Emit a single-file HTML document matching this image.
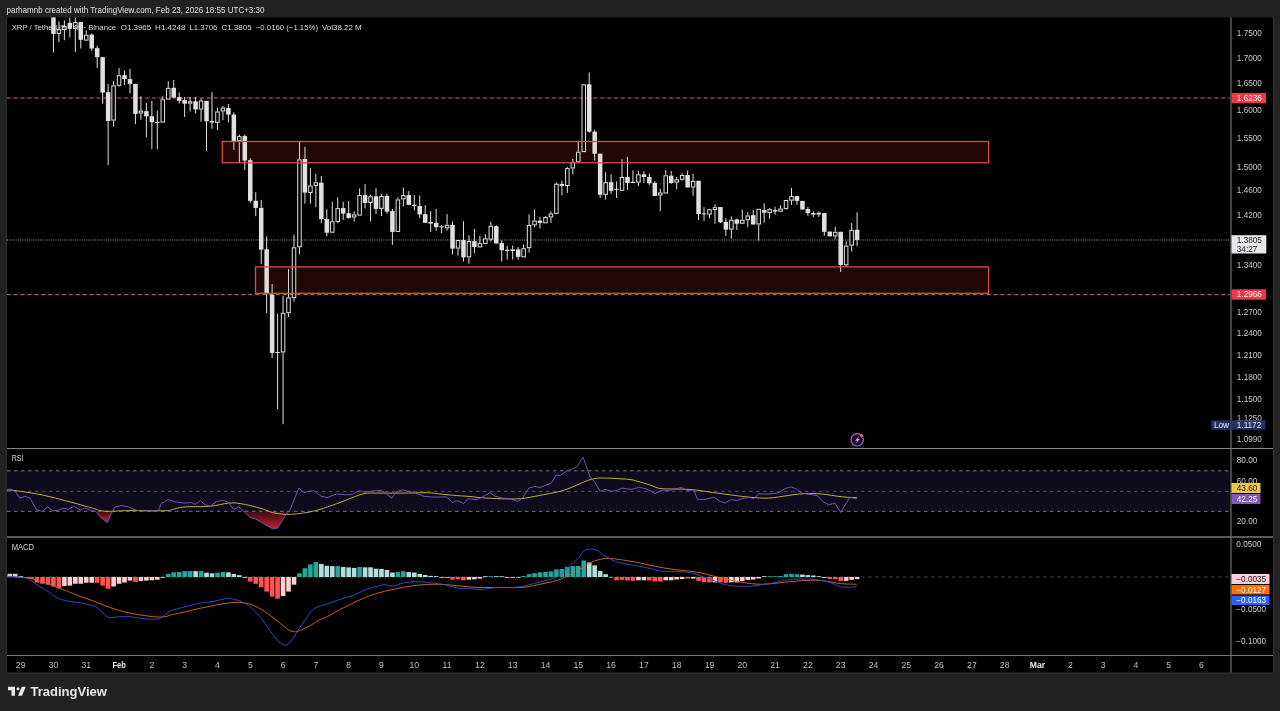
<!DOCTYPE html>
<html><head><meta charset="utf-8"><title>XRP / TetherUS chart</title>
<style>html,body{margin:0;padding:0;background:#212121;width:1280px;height:711px;overflow:hidden}svg{display:block}</style>
</head><body><svg width="1280" height="711" viewBox="0 0 1280 711" font-family="'Liberation Sans', Arial, sans-serif"><defs><linearGradient id="rg" x1="0" y1="0" x2="0" y2="1"><stop offset="0" stop-color="#3a0a12"/><stop offset="1" stop-color="#c0202a"/></linearGradient></defs><rect x="0" y="0" width="1280" height="711" fill="#212121"/>
<rect x="7" y="17.5" width="1266" height="655.0" fill="#000"/>
<rect x="1273" y="17.5" width="1.6" height="655.0" fill="#2b2b2b"/>
<rect x="5.2" y="17.5" width="1.8" height="655.0" fill="#282828"/>
<rect x="7" y="672.5" width="1266" height="1.6" fill="#2b2b2b"/>
<text x="6.5" y="12.6" font-size="8.7" textLength="258" lengthAdjust="spacingAndGlyphs" fill="#e0e0e0">parhamnb created with TradingView.com, Feb 23, 2026 18:55 UTC+3:30</text>
<clipPath id="mp"><rect x="7" y="17.5" width="1224" height="430.5"/></clipPath>
<clipPath id="rp"><rect x="7" y="448" width="1224" height="88.5"/></clipPath>
<clipPath id="mcp"><rect x="7" y="536.5" width="1224" height="119.0"/></clipPath>
<g clip-path="url(#mp)">
<line x1="7" y1="98.0" x2="1231" y2="98.0" stroke="#3a0a0c" stroke-width="1.6"/>
<line x1="7" y1="98.0" x2="1231" y2="98.0" stroke="#8e6a6a" stroke-width="1" stroke-dasharray="3.6 3.3"/>
<line x1="7" y1="294.6" x2="1231" y2="294.6" stroke="#3a0a0c" stroke-width="1.6"/>
<line x1="7" y1="294.6" x2="1231" y2="294.6" stroke="#9a7878" stroke-width="1" stroke-dasharray="3.6 3.3"/>
<line x1="7" y1="240" x2="1231" y2="240" stroke="#a8a8a8" stroke-width="0.9" stroke-dasharray="1 1.2"/>
<rect x="222.3" y="141.5" width="766.3" height="21.30000000000001" fill="#1c0606"/>
<rect x="255.5" y="266.9" width="733.1" height="26.400000000000034" fill="#1c0606"/>
<line x1="53.45" y1="5" x2="53.45" y2="52.4" stroke="#e0e0e0" stroke-width="1"/>
<rect x="51.2" y="10" width="4.5" height="23.9" fill="#e0e0e0"/>
<line x1="58.92" y1="21.3" x2="58.92" y2="29.2" stroke="#e0e0e0" stroke-width="1"/>
<line x1="58.92" y1="33.9" x2="58.92" y2="42.2" stroke="#e0e0e0" stroke-width="1"/>
<rect x="57.17" y="29.7" width="3.5" height="3.7" fill="#000" stroke="#e0e0e0" stroke-width="1"/>
<line x1="64.38" y1="20.5" x2="64.38" y2="26" stroke="#e0e0e0" stroke-width="1"/>
<line x1="64.38" y1="30" x2="64.38" y2="40.2" stroke="#e0e0e0" stroke-width="1"/>
<rect x="62.63" y="26.5" width="3.5" height="3" fill="#000" stroke="#e0e0e0" stroke-width="1"/>
<line x1="69.85" y1="17.4" x2="69.85" y2="37.4" stroke="#e0e0e0" stroke-width="1"/>
<rect x="67.6" y="22.9" width="4.5" height="5.9" fill="#e0e0e0"/>
<line x1="75.32" y1="17.4" x2="75.32" y2="22.1" stroke="#e0e0e0" stroke-width="1"/>
<line x1="75.32" y1="28.8" x2="75.32" y2="52" stroke="#e0e0e0" stroke-width="1"/>
<rect x="73.57" y="22.6" width="3.5" height="5.7" fill="#000" stroke="#e0e0e0" stroke-width="1"/>
<line x1="80.78" y1="22" x2="80.78" y2="48.5" stroke="#e0e0e0" stroke-width="1"/>
<rect x="78.53" y="22.1" width="4.5" height="17.7" fill="#e0e0e0"/>
<line x1="86.25" y1="30.4" x2="86.25" y2="34.7" stroke="#e0e0e0" stroke-width="1"/>
<line x1="86.25" y1="40.6" x2="86.25" y2="41" stroke="#e0e0e0" stroke-width="1"/>
<rect x="84.5" y="35.2" width="3.5" height="4.9" fill="#000" stroke="#e0e0e0" stroke-width="1"/>
<line x1="91.72" y1="33.5" x2="91.72" y2="50.8" stroke="#e0e0e0" stroke-width="1"/>
<rect x="89.47" y="34.7" width="4.5" height="13.8" fill="#e0e0e0"/>
<line x1="97.19" y1="45.7" x2="97.19" y2="68.1" stroke="#e0e0e0" stroke-width="1"/>
<rect x="94.94" y="48.1" width="4.5" height="9" fill="#e0e0e0"/>
<line x1="102.65" y1="57" x2="102.65" y2="103.8" stroke="#e0e0e0" stroke-width="1"/>
<rect x="100.4" y="57.1" width="4.5" height="35.4" fill="#e0e0e0"/>
<line x1="108.12" y1="83.9" x2="108.12" y2="165.1" stroke="#e0e0e0" stroke-width="1"/>
<rect x="105.87" y="92.1" width="4.5" height="28.9" fill="#e0e0e0"/>
<line x1="113.59" y1="81.1" x2="113.59" y2="85.4" stroke="#e0e0e0" stroke-width="1"/>
<line x1="113.59" y1="120.6" x2="113.59" y2="126.5" stroke="#e0e0e0" stroke-width="1"/>
<rect x="111.84" y="85.9" width="3.5" height="34.2" fill="#000" stroke="#e0e0e0" stroke-width="1"/>
<line x1="119.05" y1="68.1" x2="119.05" y2="75.2" stroke="#e0e0e0" stroke-width="1"/>
<line x1="119.05" y1="85.8" x2="119.05" y2="86.6" stroke="#e0e0e0" stroke-width="1"/>
<rect x="117.3" y="75.7" width="3.5" height="9.6" fill="#000" stroke="#e0e0e0" stroke-width="1"/>
<line x1="124.52" y1="70.5" x2="124.52" y2="85" stroke="#e0e0e0" stroke-width="1"/>
<rect x="122.27" y="75.2" width="4.5" height="3.9" fill="#e0e0e0"/>
<line x1="129.99" y1="68.9" x2="129.99" y2="93.3" stroke="#e0e0e0" stroke-width="1"/>
<rect x="127.74" y="79.1" width="4.5" height="4.8" fill="#e0e0e0"/>
<line x1="135.45" y1="83.9" x2="135.45" y2="124.1" stroke="#e0e0e0" stroke-width="1"/>
<rect x="133.2" y="83.9" width="4.5" height="30" fill="#e0e0e0"/>
<line x1="140.92" y1="96.2" x2="140.92" y2="110.7" stroke="#e0e0e0" stroke-width="1"/>
<line x1="140.92" y1="113.5" x2="140.92" y2="119.8" stroke="#e0e0e0" stroke-width="1"/>
<rect x="139.17" y="111.2" width="3.5" height="1.8" fill="#000" stroke="#e0e0e0" stroke-width="1"/>
<line x1="146.39" y1="102.9" x2="146.39" y2="137.1" stroke="#e0e0e0" stroke-width="1"/>
<rect x="144.14" y="111.1" width="4.5" height="5.2" fill="#e0e0e0"/>
<line x1="151.86" y1="100.9" x2="151.86" y2="149.2" stroke="#e0e0e0" stroke-width="1"/>
<rect x="149.61" y="116.3" width="4.5" height="5.9" fill="#e0e0e0"/>
<line x1="157.32" y1="110.7" x2="157.32" y2="121.8" stroke="#e0e0e0" stroke-width="1"/>
<line x1="157.32" y1="123" x2="157.32" y2="149.2" stroke="#e0e0e0" stroke-width="1"/>
<rect x="155.57" y="122.3" width="3.5" height="0.2" fill="#000" stroke="#e0e0e0" stroke-width="1"/>
<line x1="162.79" y1="96.2" x2="162.79" y2="99.3" stroke="#e0e0e0" stroke-width="1"/>
<rect x="161.04" y="99.8" width="3.5" height="22.3" fill="#000" stroke="#e0e0e0" stroke-width="1"/>
<line x1="168.26" y1="81.1" x2="168.26" y2="87.8" stroke="#e0e0e0" stroke-width="1"/>
<rect x="166.51" y="88.3" width="3.5" height="10.8" fill="#000" stroke="#e0e0e0" stroke-width="1"/>
<line x1="173.72" y1="79.9" x2="173.72" y2="97.6" stroke="#e0e0e0" stroke-width="1"/>
<rect x="171.47" y="87.8" width="4.5" height="9.8" fill="#e0e0e0"/>
<line x1="179.19" y1="92.5" x2="179.19" y2="103.6" stroke="#e0e0e0" stroke-width="1"/>
<rect x="176.94" y="97.2" width="4.5" height="3.6" fill="#e0e0e0"/>
<line x1="184.66" y1="97" x2="184.66" y2="117" stroke="#e0e0e0" stroke-width="1"/>
<rect x="182.41" y="100.1" width="4.5" height="3.6" fill="#e0e0e0"/>
<line x1="190.12" y1="96.9" x2="190.12" y2="101.3" stroke="#e0e0e0" stroke-width="1"/>
<line x1="190.12" y1="103.6" x2="190.12" y2="111.5" stroke="#e0e0e0" stroke-width="1"/>
<rect x="188.38" y="101.8" width="3.5" height="1.3" fill="#000" stroke="#e0e0e0" stroke-width="1"/>
<line x1="195.59" y1="96.9" x2="195.59" y2="113.5" stroke="#e0e0e0" stroke-width="1"/>
<rect x="193.34" y="101.3" width="4.5" height="8.2" fill="#e0e0e0"/>
<line x1="201.06" y1="98.5" x2="201.06" y2="100.5" stroke="#e0e0e0" stroke-width="1"/>
<line x1="201.06" y1="109.5" x2="201.06" y2="121.7" stroke="#e0e0e0" stroke-width="1"/>
<rect x="199.31" y="101" width="3.5" height="8" fill="#000" stroke="#e0e0e0" stroke-width="1"/>
<line x1="206.53" y1="100.9" x2="206.53" y2="150.9" stroke="#e0e0e0" stroke-width="1"/>
<rect x="204.28" y="100.9" width="4.5" height="20.4" fill="#e0e0e0"/>
<line x1="211.99" y1="92.2" x2="211.99" y2="128.8" stroke="#e0e0e0" stroke-width="1"/>
<rect x="209.74" y="121" width="4.5" height="1.5" fill="#e0e0e0"/>
<line x1="217.46" y1="107.6" x2="217.46" y2="111.5" stroke="#e0e0e0" stroke-width="1"/>
<line x1="217.46" y1="122.9" x2="217.46" y2="130" stroke="#e0e0e0" stroke-width="1"/>
<rect x="215.71" y="112" width="3.5" height="10.4" fill="#000" stroke="#e0e0e0" stroke-width="1"/>
<line x1="222.93" y1="106" x2="222.93" y2="107.6" stroke="#e0e0e0" stroke-width="1"/>
<line x1="222.93" y1="111.5" x2="222.93" y2="120.2" stroke="#e0e0e0" stroke-width="1"/>
<rect x="221.18" y="108.1" width="3.5" height="2.9" fill="#000" stroke="#e0e0e0" stroke-width="1"/>
<line x1="228.39" y1="104" x2="228.39" y2="122.5" stroke="#e0e0e0" stroke-width="1"/>
<rect x="226.14" y="108" width="4.5" height="6.6" fill="#e0e0e0"/>
<line x1="233.86" y1="112.3" x2="233.86" y2="149.9" stroke="#e0e0e0" stroke-width="1"/>
<rect x="231.61" y="114.6" width="4.5" height="27.1" fill="#e0e0e0"/>
<line x1="239.33" y1="134.6" x2="239.33" y2="136.1" stroke="#e0e0e0" stroke-width="1"/>
<line x1="239.33" y1="141.3" x2="239.33" y2="163.3" stroke="#e0e0e0" stroke-width="1"/>
<rect x="237.58" y="136.6" width="3.5" height="4.2" fill="#000" stroke="#e0e0e0" stroke-width="1"/>
<line x1="244.8" y1="134.6" x2="244.8" y2="170" stroke="#e0e0e0" stroke-width="1"/>
<rect x="242.55" y="136.1" width="4.5" height="24.5" fill="#e0e0e0"/>
<line x1="250.26" y1="158.2" x2="250.26" y2="202.8" stroke="#e0e0e0" stroke-width="1"/>
<rect x="248.01" y="160.2" width="4.5" height="40.6" fill="#e0e0e0"/>
<line x1="255.73" y1="192.2" x2="255.73" y2="216.2" stroke="#e0e0e0" stroke-width="1"/>
<rect x="253.48" y="200.8" width="4.5" height="7.1" fill="#e0e0e0"/>
<line x1="261.2" y1="200" x2="261.2" y2="264.2" stroke="#e0e0e0" stroke-width="1"/>
<rect x="258.95" y="207.9" width="4.5" height="41.7" fill="#e0e0e0"/>
<line x1="266.66" y1="236.3" x2="266.66" y2="313.2" stroke="#e0e0e0" stroke-width="1"/>
<rect x="264.41" y="249.3" width="4.5" height="44.2" fill="#e0e0e0"/>
<line x1="272.13" y1="284" x2="272.13" y2="358" stroke="#e0e0e0" stroke-width="1"/>
<rect x="269.88" y="294.7" width="4.5" height="58.2" fill="#e0e0e0"/>
<line x1="277.6" y1="313.9" x2="277.6" y2="409" stroke="#e0e0e0" stroke-width="1"/>
<rect x="275.35" y="352" width="4.5" height="1" fill="#e0e0e0"/>
<line x1="283.06" y1="295.9" x2="283.06" y2="312.8" stroke="#e0e0e0" stroke-width="1"/>
<line x1="283.06" y1="352.5" x2="283.06" y2="424.2" stroke="#e0e0e0" stroke-width="1"/>
<rect x="281.31" y="313.3" width="3.5" height="38.7" fill="#000" stroke="#e0e0e0" stroke-width="1"/>
<line x1="288.53" y1="269.1" x2="288.53" y2="297.4" stroke="#e0e0e0" stroke-width="1"/>
<line x1="288.53" y1="313.2" x2="288.53" y2="317" stroke="#e0e0e0" stroke-width="1"/>
<rect x="286.78" y="297.9" width="3.5" height="14.8" fill="#000" stroke="#e0e0e0" stroke-width="1"/>
<line x1="294" y1="234.7" x2="294" y2="247.3" stroke="#e0e0e0" stroke-width="1"/>
<line x1="294" y1="298.2" x2="294" y2="301.4" stroke="#e0e0e0" stroke-width="1"/>
<rect x="292.25" y="247.8" width="3.5" height="49.9" fill="#000" stroke="#e0e0e0" stroke-width="1"/>
<line x1="299.46" y1="141.3" x2="299.46" y2="159.4" stroke="#e0e0e0" stroke-width="1"/>
<line x1="299.46" y1="247.3" x2="299.46" y2="254" stroke="#e0e0e0" stroke-width="1"/>
<rect x="297.71" y="159.9" width="3.5" height="86.9" fill="#000" stroke="#e0e0e0" stroke-width="1"/>
<line x1="304.93" y1="146.8" x2="304.93" y2="203.6" stroke="#e0e0e0" stroke-width="1"/>
<rect x="302.68" y="159" width="4.5" height="33.6" fill="#e0e0e0"/>
<line x1="310.4" y1="168.1" x2="310.4" y2="185.5" stroke="#e0e0e0" stroke-width="1"/>
<line x1="310.4" y1="193" x2="310.4" y2="203.6" stroke="#e0e0e0" stroke-width="1"/>
<rect x="308.65" y="186" width="3.5" height="6.5" fill="#000" stroke="#e0e0e0" stroke-width="1"/>
<line x1="315.87" y1="174" x2="315.87" y2="182.3" stroke="#e0e0e0" stroke-width="1"/>
<line x1="315.87" y1="185.9" x2="315.87" y2="207.1" stroke="#e0e0e0" stroke-width="1"/>
<rect x="314.12" y="182.8" width="3.5" height="2.6" fill="#000" stroke="#e0e0e0" stroke-width="1"/>
<line x1="321.33" y1="176" x2="321.33" y2="223.3" stroke="#e0e0e0" stroke-width="1"/>
<rect x="319.08" y="182.7" width="4.5" height="36.4" fill="#e0e0e0"/>
<line x1="326.8" y1="209.5" x2="326.8" y2="236.3" stroke="#e0e0e0" stroke-width="1"/>
<rect x="324.55" y="219.1" width="4.5" height="13.6" fill="#e0e0e0"/>
<line x1="332.27" y1="202" x2="332.27" y2="221.3" stroke="#e0e0e0" stroke-width="1"/>
<rect x="330.52" y="221.8" width="3.5" height="10.4" fill="#000" stroke="#e0e0e0" stroke-width="1"/>
<line x1="337.73" y1="197.4" x2="337.73" y2="208.1" stroke="#e0e0e0" stroke-width="1"/>
<line x1="337.73" y1="221.9" x2="337.73" y2="223.4" stroke="#e0e0e0" stroke-width="1"/>
<rect x="335.98" y="208.6" width="3.5" height="12.8" fill="#000" stroke="#e0e0e0" stroke-width="1"/>
<line x1="343.2" y1="201.8" x2="343.2" y2="219.9" stroke="#e0e0e0" stroke-width="1"/>
<rect x="340.95" y="208.1" width="4.5" height="5.5" fill="#e0e0e0"/>
<line x1="348.67" y1="201" x2="348.67" y2="218.7" stroke="#e0e0e0" stroke-width="1"/>
<rect x="346.42" y="213.2" width="4.5" height="4.7" fill="#e0e0e0"/>
<line x1="354.13" y1="211.2" x2="354.13" y2="214.4" stroke="#e0e0e0" stroke-width="1"/>
<line x1="354.13" y1="217.5" x2="354.13" y2="221.5" stroke="#e0e0e0" stroke-width="1"/>
<rect x="352.38" y="214.9" width="3.5" height="2.1" fill="#000" stroke="#e0e0e0" stroke-width="1"/>
<line x1="359.6" y1="188.4" x2="359.6" y2="195.1" stroke="#e0e0e0" stroke-width="1"/>
<rect x="357.85" y="195.6" width="3.5" height="19.5" fill="#000" stroke="#e0e0e0" stroke-width="1"/>
<line x1="365.07" y1="184.1" x2="365.07" y2="208.5" stroke="#e0e0e0" stroke-width="1"/>
<rect x="362.82" y="195.1" width="4.5" height="7.9" fill="#e0e0e0"/>
<line x1="370.54" y1="194.7" x2="370.54" y2="196.3" stroke="#e0e0e0" stroke-width="1"/>
<line x1="370.54" y1="203" x2="370.54" y2="221.5" stroke="#e0e0e0" stroke-width="1"/>
<rect x="368.79" y="196.8" width="3.5" height="5.7" fill="#000" stroke="#e0e0e0" stroke-width="1"/>
<line x1="376" y1="188.4" x2="376" y2="214" stroke="#e0e0e0" stroke-width="1"/>
<rect x="373.75" y="196.3" width="4.5" height="12.6" fill="#e0e0e0"/>
<line x1="381.47" y1="194.3" x2="381.47" y2="195.9" stroke="#e0e0e0" stroke-width="1"/>
<line x1="381.47" y1="208.9" x2="381.47" y2="216" stroke="#e0e0e0" stroke-width="1"/>
<rect x="379.72" y="196.4" width="3.5" height="12" fill="#000" stroke="#e0e0e0" stroke-width="1"/>
<line x1="386.94" y1="193.9" x2="386.94" y2="213.6" stroke="#e0e0e0" stroke-width="1"/>
<rect x="384.69" y="195.9" width="4.5" height="15.7" fill="#e0e0e0"/>
<line x1="392.4" y1="208.9" x2="392.4" y2="244.9" stroke="#e0e0e0" stroke-width="1"/>
<rect x="390.15" y="211.2" width="4.5" height="20.7" fill="#e0e0e0"/>
<line x1="397.87" y1="197.4" x2="397.87" y2="199.4" stroke="#e0e0e0" stroke-width="1"/>
<rect x="396.12" y="199.9" width="3.5" height="31.5" fill="#000" stroke="#e0e0e0" stroke-width="1"/>
<line x1="403.34" y1="187.6" x2="403.34" y2="195.1" stroke="#e0e0e0" stroke-width="1"/>
<line x1="403.34" y1="199.4" x2="403.34" y2="206.5" stroke="#e0e0e0" stroke-width="1"/>
<rect x="401.59" y="195.6" width="3.5" height="3.3" fill="#000" stroke="#e0e0e0" stroke-width="1"/>
<line x1="408.8" y1="191.1" x2="408.8" y2="204.9" stroke="#e0e0e0" stroke-width="1"/>
<rect x="406.55" y="195.1" width="4.5" height="9.8" fill="#e0e0e0"/>
<line x1="414.27" y1="195.1" x2="414.27" y2="210.4" stroke="#e0e0e0" stroke-width="1"/>
<rect x="412.02" y="204.8" width="4.5" height="1.3" fill="#e0e0e0"/>
<line x1="419.74" y1="195.5" x2="419.74" y2="218.3" stroke="#e0e0e0" stroke-width="1"/>
<rect x="417.49" y="206.1" width="4.5" height="8.3" fill="#e0e0e0"/>
<line x1="425.21" y1="205.1" x2="425.21" y2="222.8" stroke="#e0e0e0" stroke-width="1"/>
<rect x="422.96" y="214.1" width="4.5" height="8.7" fill="#e0e0e0"/>
<line x1="430.67" y1="211" x2="430.67" y2="231.9" stroke="#e0e0e0" stroke-width="1"/>
<rect x="428.42" y="222" width="4.5" height="1.6" fill="#e0e0e0"/>
<line x1="436.14" y1="209" x2="436.14" y2="230.7" stroke="#e0e0e0" stroke-width="1"/>
<rect x="433.89" y="222.8" width="4.5" height="4.3" fill="#e0e0e0"/>
<line x1="441.61" y1="224.8" x2="441.61" y2="233" stroke="#e0e0e0" stroke-width="1"/>
<rect x="439.36" y="226.25" width="4.5" height="1" fill="#e0e0e0"/>
<line x1="447.07" y1="214.1" x2="447.07" y2="224.8" stroke="#e0e0e0" stroke-width="1"/>
<line x1="447.07" y1="228.3" x2="447.07" y2="230.7" stroke="#e0e0e0" stroke-width="1"/>
<rect x="445.32" y="225.3" width="3.5" height="2.5" fill="#000" stroke="#e0e0e0" stroke-width="1"/>
<line x1="452.54" y1="221.6" x2="452.54" y2="254.5" stroke="#e0e0e0" stroke-width="1"/>
<rect x="450.29" y="224.8" width="4.5" height="23.8" fill="#e0e0e0"/>
<line x1="458.01" y1="248.6" x2="458.01" y2="255.7" stroke="#e0e0e0" stroke-width="1"/>
<rect x="456.26" y="240.5" width="3.5" height="7.6" fill="#000" stroke="#e0e0e0" stroke-width="1"/>
<line x1="463.47" y1="221.2" x2="463.47" y2="261.6" stroke="#e0e0e0" stroke-width="1"/>
<rect x="461.22" y="240" width="4.5" height="17.3" fill="#e0e0e0"/>
<line x1="468.94" y1="235.2" x2="468.94" y2="241.1" stroke="#e0e0e0" stroke-width="1"/>
<line x1="468.94" y1="257.3" x2="468.94" y2="263.6" stroke="#e0e0e0" stroke-width="1"/>
<rect x="467.19" y="241.6" width="3.5" height="15.2" fill="#000" stroke="#e0e0e0" stroke-width="1"/>
<line x1="474.41" y1="228.9" x2="474.41" y2="253.3" stroke="#e0e0e0" stroke-width="1"/>
<rect x="472.16" y="241.1" width="4.5" height="5.9" fill="#e0e0e0"/>
<line x1="479.88" y1="236" x2="479.88" y2="243.1" stroke="#e0e0e0" stroke-width="1"/>
<rect x="478.13" y="243.6" width="3.5" height="3.3" fill="#000" stroke="#e0e0e0" stroke-width="1"/>
<line x1="485.34" y1="234.4" x2="485.34" y2="238.4" stroke="#e0e0e0" stroke-width="1"/>
<rect x="483.59" y="238.9" width="3.5" height="4.5" fill="#000" stroke="#e0e0e0" stroke-width="1"/>
<line x1="490.81" y1="221.6" x2="490.81" y2="225.8" stroke="#e0e0e0" stroke-width="1"/>
<line x1="490.81" y1="239.6" x2="490.81" y2="241.5" stroke="#e0e0e0" stroke-width="1"/>
<rect x="489.06" y="226.3" width="3.5" height="12.8" fill="#000" stroke="#e0e0e0" stroke-width="1"/>
<line x1="496.28" y1="225.2" x2="496.28" y2="243.5" stroke="#e0e0e0" stroke-width="1"/>
<rect x="494.03" y="226.2" width="4.5" height="17.3" fill="#e0e0e0"/>
<line x1="501.74" y1="240.4" x2="501.74" y2="261.6" stroke="#e0e0e0" stroke-width="1"/>
<rect x="499.49" y="243.1" width="4.5" height="7.1" fill="#e0e0e0"/>
<line x1="507.21" y1="245.9" x2="507.21" y2="259.6" stroke="#e0e0e0" stroke-width="1"/>
<rect x="504.96" y="249.8" width="4.5" height="1.2" fill="#e0e0e0"/>
<line x1="512.68" y1="245.5" x2="512.68" y2="259.6" stroke="#e0e0e0" stroke-width="1"/>
<rect x="510.43" y="249.4" width="4.5" height="1.6" fill="#e0e0e0"/>
<line x1="518.14" y1="247" x2="518.14" y2="259.6" stroke="#e0e0e0" stroke-width="1"/>
<rect x="515.89" y="249.4" width="4.5" height="7.5" fill="#e0e0e0"/>
<line x1="523.61" y1="244.3" x2="523.61" y2="248.2" stroke="#e0e0e0" stroke-width="1"/>
<rect x="521.86" y="248.7" width="3.5" height="8.1" fill="#000" stroke="#e0e0e0" stroke-width="1"/>
<line x1="529.08" y1="214.3" x2="529.08" y2="224.9" stroke="#e0e0e0" stroke-width="1"/>
<line x1="529.08" y1="248.2" x2="529.08" y2="252.6" stroke="#e0e0e0" stroke-width="1"/>
<rect x="527.33" y="225.4" width="3.5" height="22.3" fill="#000" stroke="#e0e0e0" stroke-width="1"/>
<line x1="534.55" y1="209.5" x2="534.55" y2="220.6" stroke="#e0e0e0" stroke-width="1"/>
<line x1="534.55" y1="225.3" x2="534.55" y2="227.2" stroke="#e0e0e0" stroke-width="1"/>
<rect x="532.8" y="221.1" width="3.5" height="3.7" fill="#000" stroke="#e0e0e0" stroke-width="1"/>
<line x1="540.01" y1="217" x2="540.01" y2="228.4" stroke="#e0e0e0" stroke-width="1"/>
<rect x="537.76" y="220.6" width="4.5" height="2.3" fill="#e0e0e0"/>
<line x1="545.48" y1="216.2" x2="545.48" y2="217" stroke="#e0e0e0" stroke-width="1"/>
<rect x="543.73" y="217.5" width="3.5" height="5.3" fill="#000" stroke="#e0e0e0" stroke-width="1"/>
<line x1="550.95" y1="211.5" x2="550.95" y2="213.5" stroke="#e0e0e0" stroke-width="1"/>
<line x1="550.95" y1="217.4" x2="550.95" y2="222.9" stroke="#e0e0e0" stroke-width="1"/>
<rect x="549.2" y="214" width="3.5" height="2.9" fill="#000" stroke="#e0e0e0" stroke-width="1"/>
<line x1="556.41" y1="182.4" x2="556.41" y2="183.7" stroke="#e0e0e0" stroke-width="1"/>
<rect x="554.66" y="184.2" width="3.5" height="29.2" fill="#000" stroke="#e0e0e0" stroke-width="1"/>
<line x1="561.88" y1="180.7" x2="561.88" y2="195.5" stroke="#e0e0e0" stroke-width="1"/>
<rect x="559.63" y="183.9" width="4.5" height="2" fill="#e0e0e0"/>
<line x1="567.35" y1="166.9" x2="567.35" y2="168.1" stroke="#e0e0e0" stroke-width="1"/>
<line x1="567.35" y1="186" x2="567.35" y2="193" stroke="#e0e0e0" stroke-width="1"/>
<rect x="565.6" y="168.6" width="3.5" height="16.9" fill="#000" stroke="#e0e0e0" stroke-width="1"/>
<line x1="572.82" y1="159.1" x2="572.82" y2="162.2" stroke="#e0e0e0" stroke-width="1"/>
<line x1="572.82" y1="168.5" x2="572.82" y2="174.4" stroke="#e0e0e0" stroke-width="1"/>
<rect x="571.07" y="162.7" width="3.5" height="5.3" fill="#000" stroke="#e0e0e0" stroke-width="1"/>
<line x1="578.28" y1="141.1" x2="578.28" y2="151.7" stroke="#e0e0e0" stroke-width="1"/>
<rect x="576.53" y="152.2" width="3.5" height="9.7" fill="#000" stroke="#e0e0e0" stroke-width="1"/>
<rect x="582" y="84.8" width="3.5" height="66.8" fill="#000" stroke="#e0e0e0" stroke-width="1"/>
<line x1="589.22" y1="72.5" x2="589.22" y2="132.8" stroke="#e0e0e0" stroke-width="1"/>
<rect x="586.97" y="84.3" width="4.5" height="47.4" fill="#e0e0e0"/>
<line x1="594.68" y1="129.7" x2="594.68" y2="160.4" stroke="#e0e0e0" stroke-width="1"/>
<rect x="592.43" y="131.7" width="4.5" height="22" fill="#e0e0e0"/>
<line x1="600.15" y1="153.7" x2="600.15" y2="197.9" stroke="#e0e0e0" stroke-width="1"/>
<rect x="597.9" y="153.7" width="4.5" height="41.1" fill="#e0e0e0"/>
<line x1="605.62" y1="172.3" x2="605.62" y2="182.2" stroke="#e0e0e0" stroke-width="1"/>
<line x1="605.62" y1="194.8" x2="605.62" y2="199.5" stroke="#e0e0e0" stroke-width="1"/>
<rect x="603.87" y="182.7" width="3.5" height="11.6" fill="#000" stroke="#e0e0e0" stroke-width="1"/>
<line x1="611.08" y1="174.3" x2="611.08" y2="194.4" stroke="#e0e0e0" stroke-width="1"/>
<rect x="608.83" y="182.2" width="4.5" height="8.6" fill="#e0e0e0"/>
<line x1="616.55" y1="181.4" x2="616.55" y2="197.9" stroke="#e0e0e0" stroke-width="1"/>
<rect x="614.3" y="188.8" width="4.5" height="1" fill="#e0e0e0"/>
<line x1="622.02" y1="159.3" x2="622.02" y2="177" stroke="#e0e0e0" stroke-width="1"/>
<rect x="620.27" y="177.5" width="3.5" height="12.8" fill="#000" stroke="#e0e0e0" stroke-width="1"/>
<line x1="627.49" y1="157" x2="627.49" y2="190" stroke="#e0e0e0" stroke-width="1"/>
<rect x="625.24" y="177" width="4.5" height="6" fill="#e0e0e0"/>
<line x1="632.95" y1="170.4" x2="632.95" y2="183" stroke="#e0e0e0" stroke-width="1"/>
<rect x="630.7" y="181.8" width="4.5" height="1.2" fill="#e0e0e0"/>
<line x1="638.42" y1="170.7" x2="638.42" y2="174.3" stroke="#e0e0e0" stroke-width="1"/>
<line x1="638.42" y1="182.6" x2="638.42" y2="186.1" stroke="#e0e0e0" stroke-width="1"/>
<rect x="636.67" y="174.8" width="3.5" height="7.3" fill="#000" stroke="#e0e0e0" stroke-width="1"/>
<line x1="643.89" y1="171.5" x2="643.89" y2="183" stroke="#e0e0e0" stroke-width="1"/>
<rect x="641.64" y="174.3" width="4.5" height="2.7" fill="#e0e0e0"/>
<line x1="649.35" y1="173.5" x2="649.35" y2="184.9" stroke="#e0e0e0" stroke-width="1"/>
<rect x="647.1" y="177" width="4.5" height="6.3" fill="#e0e0e0"/>
<line x1="654.82" y1="181" x2="654.82" y2="196" stroke="#e0e0e0" stroke-width="1"/>
<rect x="652.57" y="183" width="4.5" height="13" fill="#e0e0e0"/>
<line x1="660.29" y1="188.8" x2="660.29" y2="192.5" stroke="#e0e0e0" stroke-width="1"/>
<line x1="660.29" y1="195.5" x2="660.29" y2="211.1" stroke="#e0e0e0" stroke-width="1"/>
<rect x="658.54" y="193" width="3.5" height="2" fill="#000" stroke="#e0e0e0" stroke-width="1"/>
<line x1="665.75" y1="170.2" x2="665.75" y2="175.3" stroke="#e0e0e0" stroke-width="1"/>
<rect x="664" y="175.8" width="3.5" height="17.2" fill="#000" stroke="#e0e0e0" stroke-width="1"/>
<line x1="671.22" y1="171" x2="671.22" y2="183.8" stroke="#e0e0e0" stroke-width="1"/>
<rect x="668.97" y="175.7" width="4.5" height="7.3" fill="#e0e0e0"/>
<line x1="676.69" y1="176.9" x2="676.69" y2="179.3" stroke="#e0e0e0" stroke-width="1"/>
<line x1="676.69" y1="182.6" x2="676.69" y2="189.4" stroke="#e0e0e0" stroke-width="1"/>
<rect x="674.94" y="179.8" width="3.5" height="2.3" fill="#000" stroke="#e0e0e0" stroke-width="1"/>
<line x1="682.15" y1="173.4" x2="682.15" y2="175" stroke="#e0e0e0" stroke-width="1"/>
<line x1="682.15" y1="179.7" x2="682.15" y2="180.7" stroke="#e0e0e0" stroke-width="1"/>
<rect x="680.4" y="175.5" width="3.5" height="3.7" fill="#000" stroke="#e0e0e0" stroke-width="1"/>
<line x1="687.62" y1="170.5" x2="687.62" y2="187.5" stroke="#e0e0e0" stroke-width="1"/>
<rect x="685.37" y="175" width="4.5" height="12.5" fill="#e0e0e0"/>
<line x1="693.09" y1="173.8" x2="693.09" y2="180.8" stroke="#e0e0e0" stroke-width="1"/>
<line x1="693.09" y1="187.5" x2="693.09" y2="195.8" stroke="#e0e0e0" stroke-width="1"/>
<rect x="691.34" y="181.3" width="3.5" height="5.7" fill="#000" stroke="#e0e0e0" stroke-width="1"/>
<line x1="698.56" y1="180.8" x2="698.56" y2="220" stroke="#e0e0e0" stroke-width="1"/>
<rect x="696.31" y="180.8" width="4.5" height="33.2" fill="#e0e0e0"/>
<line x1="704.02" y1="207.2" x2="704.02" y2="221" stroke="#e0e0e0" stroke-width="1"/>
<rect x="701.77" y="213.35" width="4.5" height="1" fill="#e0e0e0"/>
<line x1="709.49" y1="208.8" x2="709.49" y2="209.3" stroke="#e0e0e0" stroke-width="1"/>
<line x1="709.49" y1="214.6" x2="709.49" y2="218.3" stroke="#e0e0e0" stroke-width="1"/>
<rect x="707.74" y="209.8" width="3.5" height="4.3" fill="#000" stroke="#e0e0e0" stroke-width="1"/>
<line x1="714.96" y1="204.4" x2="714.96" y2="207.2" stroke="#e0e0e0" stroke-width="1"/>
<line x1="714.96" y1="210" x2="714.96" y2="223.7" stroke="#e0e0e0" stroke-width="1"/>
<rect x="713.21" y="207.7" width="3.5" height="1.8" fill="#000" stroke="#e0e0e0" stroke-width="1"/>
<line x1="720.42" y1="207" x2="720.42" y2="223" stroke="#e0e0e0" stroke-width="1"/>
<rect x="718.17" y="207" width="4.5" height="15.2" fill="#e0e0e0"/>
<line x1="725.89" y1="218.2" x2="725.89" y2="235.9" stroke="#e0e0e0" stroke-width="1"/>
<rect x="723.64" y="221.8" width="4.5" height="7.8" fill="#e0e0e0"/>
<line x1="731.36" y1="216.3" x2="731.36" y2="219.8" stroke="#e0e0e0" stroke-width="1"/>
<line x1="731.36" y1="229.6" x2="731.36" y2="238.7" stroke="#e0e0e0" stroke-width="1"/>
<rect x="729.61" y="220.3" width="3.5" height="8.8" fill="#000" stroke="#e0e0e0" stroke-width="1"/>
<line x1="736.83" y1="218.6" x2="736.83" y2="230" stroke="#e0e0e0" stroke-width="1"/>
<rect x="734.58" y="219.4" width="4.5" height="4.3" fill="#e0e0e0"/>
<line x1="742.29" y1="209.6" x2="742.29" y2="219.8" stroke="#e0e0e0" stroke-width="1"/>
<rect x="740.54" y="220.3" width="3.5" height="2.9" fill="#000" stroke="#e0e0e0" stroke-width="1"/>
<line x1="747.76" y1="212.3" x2="747.76" y2="215.5" stroke="#e0e0e0" stroke-width="1"/>
<line x1="747.76" y1="220.2" x2="747.76" y2="227.3" stroke="#e0e0e0" stroke-width="1"/>
<rect x="746.01" y="216" width="3.5" height="3.7" fill="#000" stroke="#e0e0e0" stroke-width="1"/>
<line x1="753.23" y1="210" x2="753.23" y2="224.5" stroke="#e0e0e0" stroke-width="1"/>
<rect x="750.98" y="215.1" width="4.5" height="9.4" fill="#e0e0e0"/>
<line x1="758.69" y1="224.5" x2="758.69" y2="240.7" stroke="#e0e0e0" stroke-width="1"/>
<rect x="756.94" y="209.3" width="3.5" height="14.7" fill="#000" stroke="#e0e0e0" stroke-width="1"/>
<line x1="764.16" y1="203.3" x2="764.16" y2="222.6" stroke="#e0e0e0" stroke-width="1"/>
<rect x="761.91" y="210" width="4.5" height="2.7" fill="#e0e0e0"/>
<line x1="769.63" y1="208" x2="769.63" y2="209.2" stroke="#e0e0e0" stroke-width="1"/>
<line x1="769.63" y1="213.1" x2="769.63" y2="218.6" stroke="#e0e0e0" stroke-width="1"/>
<rect x="767.88" y="209.7" width="3.5" height="2.9" fill="#000" stroke="#e0e0e0" stroke-width="1"/>
<line x1="775.09" y1="206.8" x2="775.09" y2="214.6" stroke="#e0e0e0" stroke-width="1"/>
<rect x="772.84" y="210" width="4.5" height="1.5" fill="#e0e0e0"/>
<line x1="780.56" y1="205.4" x2="780.56" y2="208.5" stroke="#e0e0e0" stroke-width="1"/>
<rect x="778.81" y="209" width="3.5" height="2.2" fill="#000" stroke="#e0e0e0" stroke-width="1"/>
<line x1="786.03" y1="209.1" x2="786.03" y2="209.5" stroke="#e0e0e0" stroke-width="1"/>
<rect x="784.28" y="200.5" width="3.5" height="8.1" fill="#000" stroke="#e0e0e0" stroke-width="1"/>
<line x1="791.5" y1="187.9" x2="791.5" y2="196.1" stroke="#e0e0e0" stroke-width="1"/>
<line x1="791.5" y1="200.7" x2="791.5" y2="204.8" stroke="#e0e0e0" stroke-width="1"/>
<rect x="789.75" y="196.6" width="3.5" height="3.6" fill="#000" stroke="#e0e0e0" stroke-width="1"/>
<line x1="796.96" y1="196.1" x2="796.96" y2="204.8" stroke="#e0e0e0" stroke-width="1"/>
<rect x="794.71" y="196.1" width="4.5" height="4.8" fill="#e0e0e0"/>
<line x1="802.43" y1="200.9" x2="802.43" y2="209.5" stroke="#e0e0e0" stroke-width="1"/>
<rect x="800.18" y="200.9" width="4.5" height="8.6" fill="#e0e0e0"/>
<line x1="807.9" y1="206.8" x2="807.9" y2="215.8" stroke="#e0e0e0" stroke-width="1"/>
<rect x="805.65" y="209.1" width="4.5" height="4" fill="#e0e0e0"/>
<line x1="813.36" y1="211.5" x2="813.36" y2="217" stroke="#e0e0e0" stroke-width="1"/>
<rect x="811.11" y="213.1" width="4.5" height="1.5" fill="#e0e0e0"/>
<line x1="818.83" y1="211.5" x2="818.83" y2="212.7" stroke="#e0e0e0" stroke-width="1"/>
<line x1="818.83" y1="214.6" x2="818.83" y2="217" stroke="#e0e0e0" stroke-width="1"/>
<rect x="817.08" y="213.2" width="3.5" height="0.9" fill="#000" stroke="#e0e0e0" stroke-width="1"/>
<line x1="824.3" y1="213.1" x2="824.3" y2="235.7" stroke="#e0e0e0" stroke-width="1"/>
<rect x="822.05" y="213.1" width="4.5" height="18.7" fill="#e0e0e0"/>
<line x1="829.76" y1="231.6" x2="829.76" y2="236.3" stroke="#e0e0e0" stroke-width="1"/>
<rect x="827.51" y="231.6" width="4.5" height="4.7" fill="#e0e0e0"/>
<line x1="835.23" y1="226.7" x2="835.23" y2="231.8" stroke="#e0e0e0" stroke-width="1"/>
<line x1="835.23" y1="236.5" x2="835.23" y2="239.3" stroke="#e0e0e0" stroke-width="1"/>
<rect x="833.48" y="232.3" width="3.5" height="3.7" fill="#000" stroke="#e0e0e0" stroke-width="1"/>
<line x1="840.7" y1="231.8" x2="840.7" y2="272" stroke="#e0e0e0" stroke-width="1"/>
<rect x="838.45" y="231.8" width="4.5" height="33.1" fill="#e0e0e0"/>
<line x1="846.16" y1="241.3" x2="846.16" y2="245.6" stroke="#e0e0e0" stroke-width="1"/>
<line x1="846.16" y1="265.3" x2="846.16" y2="267.2" stroke="#e0e0e0" stroke-width="1"/>
<rect x="844.41" y="246.1" width="3.5" height="18.7" fill="#000" stroke="#e0e0e0" stroke-width="1"/>
<line x1="851.63" y1="223.1" x2="851.63" y2="229.8" stroke="#e0e0e0" stroke-width="1"/>
<line x1="851.63" y1="245.6" x2="851.63" y2="251.5" stroke="#e0e0e0" stroke-width="1"/>
<rect x="849.88" y="230.3" width="3.5" height="14.8" fill="#000" stroke="#e0e0e0" stroke-width="1"/>
<line x1="857.1" y1="212.3" x2="857.1" y2="246.2" stroke="#e0e0e0" stroke-width="1"/>
<rect x="854.85" y="229.8" width="4.5" height="10.1" fill="#e0e0e0"/>
<rect x="222.3" y="141.5" width="766.3" height="21.30000000000001" fill="rgba(242,54,69,0.03)" stroke="#e04a42" stroke-width="1.3"/>
<rect x="255.5" y="266.9" width="733.1" height="26.400000000000034" fill="rgba(242,54,69,0.03)" stroke="#e04a42" stroke-width="1.3"/>
<circle cx="857.2" cy="439.8" r="6.2" fill="#1c0a22" stroke="#b062c6" stroke-width="1.2"/>
<path d="M859.3 436.0 L854.9 440.7 L857.2 440.7 L855.5 443.9 L859.9 439.1 L857.5 439.1 Z" fill="#c9a2ee"/>
<circle cx="861.6" cy="435.6" r="1.6" fill="#e06070"/>
</g>
<text x="11.7" y="29.6" font-size="7.6" textLength="104.4" lengthAdjust="spacingAndGlyphs" fill="#dcdcdc">XRP / TetherUS · 4h · Binance</text>
<text x="120.8" y="29.6" font-size="7.6" textLength="30.3" lengthAdjust="spacingAndGlyphs" fill="#dcdcdc">O1.3965</text>
<text x="155.1" y="29.6" font-size="7.6" textLength="30.4" lengthAdjust="spacingAndGlyphs" fill="#dcdcdc">H1.4248</text>
<text x="189.5" y="29.6" font-size="7.6" textLength="27.9" lengthAdjust="spacingAndGlyphs" fill="#dcdcdc">L1.3706</text>
<text x="221.4" y="29.6" font-size="7.6" textLength="30.3" lengthAdjust="spacingAndGlyphs" fill="#dcdcdc">C1.3805</text>
<text x="255.8" y="29.6" font-size="7.6" textLength="62.2" lengthAdjust="spacingAndGlyphs" fill="#dcdcdc">−0.0160 (−1.15%)</text>
<text x="322" y="29.6" font-size="7.6" textLength="39.7" lengthAdjust="spacingAndGlyphs" fill="#dcdcdc">Vol38.22 M</text>
<g clip-path="url(#rp)">
<rect x="7" y="470.8" width="1224" height="40.5" fill="#0e0c1c"/>
<polygon points="42.28,511.25 42.5,511.3 42.56,511.25" fill="url(#rg)"/>
<polygon points="93.96,511.25 96.25,511.8 101.25,518.1 107.5,522.5 111.25,513.75 112.62,511.25" fill="url(#rg)"/>
<polygon points="243.75,511.25 250,517.5 255,518.75 262.5,523.1 272.5,528.75 277.5,528.1 285,516.25 289,511.25" fill="url(#rg)"/>
<polygon points="839.86,511.25 840.6,512.5 841.33,511.25" fill="url(#rg)"/>
<line x1="7" y1="470.8" x2="1231" y2="470.8" stroke="#808390" stroke-width="1" stroke-dasharray="3.5 3.5" opacity="0.9"/>
<line x1="7" y1="491.4" x2="1231" y2="491.4" stroke="#808390" stroke-width="1" stroke-dasharray="3.5 3.5" opacity="0.55"/>
<line x1="7" y1="511.3" x2="1231" y2="511.3" stroke="#808390" stroke-width="1" stroke-dasharray="3.5 3.5" opacity="0.9"/>
<path d="M6.9,490 C8.25,490.1 9.07,489.77 15,490.6 C20.93,491.43 33.75,493.23 42.5,495 C51.25,496.77 59.17,499.07 67.5,501.25 C75.83,503.43 86.25,506.43 92.5,508.1 C98.75,509.77 98.75,510.83 105,511.25 C111.25,511.67 120,510.68 130,510.6 C140,510.53 157.92,511 165,510.8 C172.08,510.6 169.17,510.05 172.5,509.4 C175.83,508.75 178.75,507.42 185,506.9 C191.25,506.38 202.71,506.88 210,506.25 C217.29,505.62 223.54,503.52 228.75,503.1 C233.96,502.68 236.04,502.92 241.25,503.75 C246.46,504.58 254.79,506.64 260,508.1 C265.21,509.56 268.33,511.45 272.5,512.5 C276.67,513.55 280.83,514.19 285,514.4 C289.17,514.61 293.33,514.17 297.5,513.75 C301.67,513.33 306.25,512.62 310,511.9 C313.75,511.17 317.08,510.23 320,509.4 C322.92,508.57 324.17,508.05 327.5,506.9 C330.83,505.75 335.83,504.07 340,502.5 C344.17,500.93 348.33,499 352.5,497.5 C356.67,496 360.83,494.23 365,493.5 C369.17,492.77 371.25,493.17 377.5,493.1 C383.75,493.03 394.17,493.16 402.5,493.1 C410.83,493.04 421.25,492.6 427.5,492.75 C433.75,492.9 435.83,493.58 440,494 C444.17,494.42 447.5,494.83 452.5,495.25 C457.5,495.67 465,496.08 470,496.5 C475,496.92 477.29,497.38 482.5,497.75 C487.71,498.12 495,498.58 501.25,498.75 C507.5,498.92 513.75,499.27 520,498.75 C526.25,498.23 532.5,496.74 538.75,495.6 C545,494.46 552.29,493.15 557.5,491.9 C562.71,490.65 565.83,489.67 570,488.1 C574.17,486.53 578.33,484.1 582.5,482.5 C586.67,480.9 590.83,479.23 595,478.5 C599.17,477.77 603.33,478.06 607.5,478.1 C611.67,478.14 616.25,478.52 620,478.75 C623.75,478.98 627.08,479.08 630,479.5 C632.92,479.92 634.17,480.33 637.5,481.25 C640.83,482.17 646.25,483.79 650,485 C653.75,486.21 655.83,487.83 660,488.5 C664.17,489.17 669.38,488.79 675,489 C680.62,489.21 687.5,489.17 693.75,489.75 C700,490.33 706.25,491.62 712.5,492.5 C718.75,493.38 725,494.21 731.25,495 C737.5,495.79 743.75,496.73 750,497.25 C756.25,497.77 762.5,498.38 768.75,498.1 C775,497.83 782.29,496.28 787.5,495.6 C792.71,494.92 795.83,494.35 800,494 C804.17,493.65 808.33,493.43 812.5,493.5 C816.67,493.57 820.83,493.94 825,494.4 C829.17,494.86 833.75,495.77 837.5,496.25 C841.25,496.73 844.3,497.04 847.5,497.25 C850.7,497.46 855.17,497.46 856.7,497.5" fill="none" stroke="#d4bd48" stroke-width="0.9"/>
<polyline points="6.9,490 10,489 15,491.3 20,498.1 25,496.3 30,498.1 33.1,503.8 36.9,510 42.5,511.3 47.5,506.9 53.1,511 58.75,510 63.75,508.1 68.1,509.4 73.75,506.3 80,510 85,508.1 91.25,510.6 96.25,511.8 101.25,518.1 107.5,522.5 111.25,513.75 115,506.9 121.25,505.6 128.75,506.9 132.5,508.75 140,511.25 146.25,511 155,511 158.75,510 161.25,503.1 163.75,502.5 168.1,499.4 175,501.9 185,503.1 191.25,502.5 195,504.4 200.6,500.6 204.4,504.4 210,506.25 216.25,501.9 222.5,500.25 227.5,501.9 233.75,509.4 238.75,506.9 243.75,511.25 250,517.5 255,518.75 262.5,523.1 272.5,528.75 277.5,528.1 285,516.25 290,510 298.75,488.1 303.75,492.5 313.75,490.6 321.25,496.25 327.5,497.5 336.25,494 346.25,494.75 352.5,494.4 359.4,490.6 365,492.25 371.25,491.25 381.25,490.4 386.25,493.75 391.9,498.1 396.25,491.9 402.5,490 408.75,491.25 417.5,493.75 423.75,496.25 433.75,497.1 446.25,496.9 452.5,502.5 457.5,500.6 463.75,503.75 467.5,498.75 476.25,499.75 482.5,496.9 490,492.5 495,496.25 502.5,498.1 510,498.75 517.5,501.25 522.5,498.1 528.75,488.1 535,486.5 540,487.5 545,485.6 551.25,483.1 556.25,475 560,475.6 567.5,470.6 576.25,467.5 583.1,457.25 590,476.9 595,482.5 600,491.25 605,489.4 611.25,491.25 616.25,490.6 621.9,488.1 631.25,489.4 638.75,487.25 646.25,488.75 655,493.5 662.5,490 668.75,490.6 681.25,487.5 687.5,490.6 693.75,490 697.5,499.4 705,499.4 713.75,497.25 720,501.25 725,503.1 731.25,499.4 736.25,500.6 743.75,498.1 750,497.5 753.75,498.75 758.75,493.75 765,494 775,493.5 780,491.9 785,488.5 791.25,486.9 797.5,489.4 801.25,493.1 810,494.4 817.5,495.6 822.5,501.25 828.75,505 835,503.1 840.6,512.5 845,505 850,497.5 856.7,498.8" fill="none" stroke="#7a56c0" stroke-width="0.9"/>
</g>
<text x="11.7" y="461.1" font-size="8.5" textLength="11.7" lengthAdjust="spacingAndGlyphs" fill="#dcdcdc">RSI</text>
<g clip-path="url(#mcp)">
<line x1="7" y1="577" x2="1231" y2="577" stroke="#787b86" stroke-width="1" stroke-dasharray="3.5 3.5" opacity="0.6"/>
<rect x="7.41" y="573.75" width="4.6" height="3.25" fill="#b2dfdb"/>
<rect x="12.88" y="573.75" width="4.6" height="3.25" fill="#b2dfdb"/>
<rect x="18.35" y="576" width="4.6" height="1" fill="#b2dfdb"/>
<rect x="23.82" y="577" width="4.6" height="0.8" fill="#ffcdd2"/>
<rect x="29.28" y="577" width="4.6" height="1.75" fill="#ff5252"/>
<rect x="34.75" y="577" width="4.6" height="5.5" fill="#ff5252"/>
<rect x="40.22" y="577" width="4.6" height="6.75" fill="#ff5252"/>
<rect x="45.68" y="577" width="4.6" height="7.75" fill="#ff5252"/>
<rect x="51.15" y="577" width="4.6" height="9.5" fill="#ff5252"/>
<rect x="56.62" y="577" width="4.6" height="11.1" fill="#ff5252"/>
<rect x="62.08" y="577" width="4.6" height="9" fill="#ffcdd2"/>
<rect x="67.55" y="577" width="4.6" height="8.6" fill="#ffcdd2"/>
<rect x="73.02" y="577" width="4.6" height="6.75" fill="#ffcdd2"/>
<rect x="78.48" y="577" width="4.6" height="6.75" fill="#ffcdd2"/>
<rect x="83.95" y="577" width="4.6" height="5.75" fill="#ffcdd2"/>
<rect x="89.42" y="577" width="4.6" height="5.75" fill="#ffcdd2"/>
<rect x="94.89" y="577" width="4.6" height="5.75" fill="#ff5252"/>
<rect x="100.35" y="577" width="4.6" height="8.6" fill="#ff5252"/>
<rect x="105.82" y="577" width="4.6" height="11.75" fill="#ff5252"/>
<rect x="111.29" y="577" width="4.6" height="9.5" fill="#ffcdd2"/>
<rect x="116.75" y="577" width="4.6" height="6.75" fill="#ffcdd2"/>
<rect x="122.22" y="577" width="4.6" height="5.5" fill="#ffcdd2"/>
<rect x="127.69" y="577" width="4.6" height="3.6" fill="#ffcdd2"/>
<rect x="133.15" y="577" width="4.6" height="4.9" fill="#ff5252"/>
<rect x="138.62" y="577" width="4.6" height="4" fill="#ffcdd2"/>
<rect x="144.09" y="577" width="4.6" height="3.6" fill="#ffcdd2"/>
<rect x="149.56" y="577" width="4.6" height="3.25" fill="#ffcdd2"/>
<rect x="155.02" y="577" width="4.6" height="2.75" fill="#ffcdd2"/>
<rect x="160.49" y="577" width="4.6" height="0.8" fill="#ffcdd2"/>
<rect x="165.96" y="573.9" width="4.6" height="3.1" fill="#26a69a"/>
<rect x="171.42" y="572.3" width="4.6" height="4.7" fill="#26a69a"/>
<rect x="176.89" y="572" width="4.6" height="5" fill="#26a69a"/>
<rect x="182.36" y="571.1" width="4.6" height="5.9" fill="#26a69a"/>
<rect x="187.82" y="571.1" width="4.6" height="5.9" fill="#26a69a"/>
<rect x="193.29" y="571.1" width="4.6" height="5.9" fill="#b2dfdb"/>
<rect x="198.76" y="571.1" width="4.6" height="5.9" fill="#26a69a"/>
<rect x="204.23" y="572.7" width="4.6" height="4.3" fill="#b2dfdb"/>
<rect x="209.69" y="573.3" width="4.6" height="3.7" fill="#b2dfdb"/>
<rect x="215.16" y="572.7" width="4.6" height="4.3" fill="#26a69a"/>
<rect x="220.63" y="572" width="4.6" height="5" fill="#26a69a"/>
<rect x="226.09" y="572.3" width="4.6" height="4.7" fill="#b2dfdb"/>
<rect x="231.56" y="573.9" width="4.6" height="3.1" fill="#b2dfdb"/>
<rect x="237.03" y="575.2" width="4.6" height="1.8" fill="#b2dfdb"/>
<rect x="242.5" y="577" width="4.6" height="0.8" fill="#ffcdd2"/>
<rect x="247.96" y="577" width="4.6" height="4.5" fill="#ff5252"/>
<rect x="253.43" y="577" width="4.6" height="6.8" fill="#ff5252"/>
<rect x="258.9" y="577" width="4.6" height="10.2" fill="#ff5252"/>
<rect x="264.36" y="577" width="4.6" height="14.6" fill="#ff5252"/>
<rect x="269.83" y="577" width="4.6" height="19.7" fill="#ff5252"/>
<rect x="275.3" y="577" width="4.6" height="21.6" fill="#ff5252"/>
<rect x="280.76" y="577" width="4.6" height="19.1" fill="#ffcdd2"/>
<rect x="286.23" y="577" width="4.6" height="14.6" fill="#ffcdd2"/>
<rect x="291.7" y="577" width="4.6" height="7.7" fill="#ffcdd2"/>
<rect x="297.16" y="573.3" width="4.6" height="3.7" fill="#26a69a"/>
<rect x="302.63" y="568.2" width="4.6" height="8.8" fill="#26a69a"/>
<rect x="308.1" y="564.4" width="4.6" height="12.6" fill="#26a69a"/>
<rect x="313.57" y="562" width="4.6" height="15" fill="#26a69a"/>
<rect x="319.03" y="563.9" width="4.6" height="13.1" fill="#b2dfdb"/>
<rect x="324.5" y="565.8" width="4.6" height="11.2" fill="#b2dfdb"/>
<rect x="329.97" y="566.1" width="4.6" height="10.9" fill="#b2dfdb"/>
<rect x="335.43" y="566.1" width="4.6" height="10.9" fill="#26a69a"/>
<rect x="340.9" y="567" width="4.6" height="10" fill="#b2dfdb"/>
<rect x="346.37" y="567.4" width="4.6" height="9.6" fill="#b2dfdb"/>
<rect x="351.83" y="567.9" width="4.6" height="9.1" fill="#b2dfdb"/>
<rect x="357.3" y="567" width="4.6" height="10" fill="#26a69a"/>
<rect x="362.77" y="567.3" width="4.6" height="9.7" fill="#b2dfdb"/>
<rect x="368.24" y="567.3" width="4.6" height="9.7" fill="#b2dfdb"/>
<rect x="373.7" y="568.7" width="4.6" height="8.3" fill="#b2dfdb"/>
<rect x="379.17" y="568.9" width="4.6" height="8.1" fill="#b2dfdb"/>
<rect x="384.64" y="569.9" width="4.6" height="7.1" fill="#b2dfdb"/>
<rect x="390.1" y="572.5" width="4.6" height="4.5" fill="#b2dfdb"/>
<rect x="395.57" y="572.1" width="4.6" height="4.9" fill="#26a69a"/>
<rect x="401.04" y="571.2" width="4.6" height="5.8" fill="#26a69a"/>
<rect x="406.5" y="572.1" width="4.6" height="4.9" fill="#b2dfdb"/>
<rect x="411.97" y="572.5" width="4.6" height="4.5" fill="#b2dfdb"/>
<rect x="417.44" y="574" width="4.6" height="3" fill="#b2dfdb"/>
<rect x="422.91" y="575" width="4.6" height="2" fill="#b2dfdb"/>
<rect x="428.37" y="575.9" width="4.6" height="1.1" fill="#b2dfdb"/>
<rect x="433.84" y="576.2" width="4.6" height="0.8" fill="#b2dfdb"/>
<rect x="439.31" y="577" width="4.6" height="0.8" fill="#ffcdd2"/>
<rect x="444.77" y="577" width="4.6" height="0.8" fill="#ffcdd2"/>
<rect x="450.24" y="577" width="4.6" height="2.7" fill="#ff5252"/>
<rect x="455.71" y="577" width="4.6" height="2.3" fill="#ff5252"/>
<rect x="461.17" y="577" width="4.6" height="3.3" fill="#ff5252"/>
<rect x="466.64" y="577" width="4.6" height="2.7" fill="#ffcdd2"/>
<rect x="472.11" y="577" width="4.6" height="2.3" fill="#ffcdd2"/>
<rect x="477.58" y="577" width="4.6" height="1.6" fill="#ffcdd2"/>
<rect x="483.04" y="576.2" width="4.6" height="0.8" fill="#b2dfdb"/>
<rect x="488.51" y="576.2" width="4.6" height="0.8" fill="#26a69a"/>
<rect x="493.98" y="576.2" width="4.6" height="0.8" fill="#b2dfdb"/>
<rect x="499.44" y="576.2" width="4.6" height="0.8" fill="#b2dfdb"/>
<rect x="504.91" y="577" width="4.6" height="0.8" fill="#ffcdd2"/>
<rect x="510.38" y="577" width="4.6" height="0.8" fill="#ffcdd2"/>
<rect x="515.85" y="577" width="4.6" height="0.8" fill="#ffcdd2"/>
<rect x="521.31" y="576" width="4.6" height="1" fill="#26a69a"/>
<rect x="526.78" y="574.2" width="4.6" height="2.8" fill="#26a69a"/>
<rect x="532.25" y="573.2" width="4.6" height="3.8" fill="#26a69a"/>
<rect x="537.71" y="572.3" width="4.6" height="4.7" fill="#26a69a"/>
<rect x="543.18" y="571.9" width="4.6" height="5.1" fill="#26a69a"/>
<rect x="548.65" y="571.4" width="4.6" height="5.6" fill="#26a69a"/>
<rect x="554.11" y="569.4" width="4.6" height="7.6" fill="#26a69a"/>
<rect x="559.58" y="568.9" width="4.6" height="8.1" fill="#26a69a"/>
<rect x="565.05" y="566.8" width="4.6" height="10.2" fill="#26a69a"/>
<rect x="570.52" y="566" width="4.6" height="11" fill="#26a69a"/>
<rect x="575.98" y="566" width="4.6" height="11" fill="#26a69a"/>
<rect x="581.45" y="560.5" width="4.6" height="16.5" fill="#26a69a"/>
<rect x="586.92" y="562.5" width="4.6" height="14.5" fill="#b2dfdb"/>
<rect x="592.38" y="565.3" width="4.6" height="11.7" fill="#b2dfdb"/>
<rect x="597.85" y="571" width="4.6" height="6" fill="#b2dfdb"/>
<rect x="603.32" y="574.2" width="4.6" height="2.8" fill="#b2dfdb"/>
<rect x="608.78" y="577" width="4.6" height="1" fill="#ff5252"/>
<rect x="614.25" y="577" width="4.6" height="3.3" fill="#ff5252"/>
<rect x="619.72" y="577" width="4.6" height="2.9" fill="#ff5252"/>
<rect x="625.19" y="577" width="4.6" height="3.5" fill="#ff5252"/>
<rect x="630.65" y="577" width="4.6" height="3.8" fill="#ff5252"/>
<rect x="636.12" y="577" width="4.6" height="3.3" fill="#ffcdd2"/>
<rect x="641.59" y="577" width="4.6" height="3.3" fill="#ffcdd2"/>
<rect x="647.05" y="577" width="4.6" height="3.5" fill="#ff5252"/>
<rect x="652.52" y="577" width="4.6" height="4.5" fill="#ff5252"/>
<rect x="657.99" y="577" width="4.6" height="4.5" fill="#ff5252"/>
<rect x="663.45" y="577" width="4.6" height="3.3" fill="#ffcdd2"/>
<rect x="668.92" y="577" width="4.6" height="3.3" fill="#ffcdd2"/>
<rect x="674.39" y="577" width="4.6" height="2.5" fill="#ffcdd2"/>
<rect x="679.86" y="577" width="4.6" height="2" fill="#ffcdd2"/>
<rect x="685.32" y="577" width="4.6" height="1.6" fill="#ff5252"/>
<rect x="690.79" y="577" width="4.6" height="1.6" fill="#ffcdd2"/>
<rect x="696.26" y="577" width="4.6" height="3.8" fill="#ff5252"/>
<rect x="701.72" y="577" width="4.6" height="5" fill="#ff5252"/>
<rect x="707.19" y="577" width="4.6" height="5.4" fill="#ff5252"/>
<rect x="712.66" y="577" width="4.6" height="5.4" fill="#ffcdd2"/>
<rect x="718.12" y="577" width="4.6" height="5.4" fill="#ff5252"/>
<rect x="723.59" y="577" width="4.6" height="5.8" fill="#ff5252"/>
<rect x="729.06" y="577" width="4.6" height="5.4" fill="#ffcdd2"/>
<rect x="734.53" y="577" width="4.6" height="5.4" fill="#ffcdd2"/>
<rect x="739.99" y="577" width="4.6" height="4.1" fill="#ffcdd2"/>
<rect x="745.46" y="577" width="4.6" height="2.9" fill="#ffcdd2"/>
<rect x="750.93" y="577" width="4.6" height="2.5" fill="#ffcdd2"/>
<rect x="756.39" y="577" width="4.6" height="1.5" fill="#ffcdd2"/>
<rect x="761.86" y="576.2" width="4.6" height="0.8" fill="#b2dfdb"/>
<rect x="767.33" y="576.2" width="4.6" height="0.8" fill="#26a69a"/>
<rect x="772.79" y="576.2" width="4.6" height="0.8" fill="#26a69a"/>
<rect x="778.26" y="576" width="4.6" height="1" fill="#26a69a"/>
<rect x="783.73" y="574.2" width="4.6" height="2.8" fill="#26a69a"/>
<rect x="789.2" y="573.9" width="4.6" height="3.1" fill="#26a69a"/>
<rect x="794.66" y="574.2" width="4.6" height="2.8" fill="#26a69a"/>
<rect x="800.13" y="574.6" width="4.6" height="2.4" fill="#b2dfdb"/>
<rect x="805.6" y="575.1" width="4.6" height="1.9" fill="#b2dfdb"/>
<rect x="811.06" y="575.5" width="4.6" height="1.5" fill="#b2dfdb"/>
<rect x="816.53" y="576.2" width="4.6" height="0.8" fill="#b2dfdb"/>
<rect x="822" y="577" width="4.6" height="0.9" fill="#ffcdd2"/>
<rect x="827.46" y="577" width="4.6" height="2.1" fill="#ff5252"/>
<rect x="832.93" y="577" width="4.6" height="2.2" fill="#ff5252"/>
<rect x="838.4" y="577" width="4.6" height="3.9" fill="#ff5252"/>
<rect x="843.87" y="577" width="4.6" height="3.9" fill="#ffcdd2"/>
<rect x="849.33" y="577" width="4.6" height="2.8" fill="#ffcdd2"/>
<rect x="854.8" y="577" width="4.6" height="2.1" fill="#ffcdd2"/>
<path d="M7,576.5 C9.79,576.67 18.88,576.92 23.75,577.5 C28.62,578.08 32.08,578.96 36.25,580 C40.42,581.04 45,582.4 48.75,583.75 C52.5,585.1 55.62,586.85 58.75,588.1 C61.88,589.35 63.96,589.89 67.5,591.25 C71.04,592.61 75.83,594.69 80,596.25 C84.17,597.81 88.33,599.04 92.5,600.6 C96.67,602.16 100.83,604.03 105,605.6 C109.17,607.17 113.33,608.75 117.5,610 C121.67,611.25 125.83,612.23 130,613.1 C134.17,613.98 138.33,614.62 142.5,615.25 C146.67,615.88 151.25,616.66 155,616.9 C158.75,617.14 162.05,617.12 165,616.7 C167.95,616.28 169.32,615.2 172.7,614.4 C176.08,613.6 181.08,612.85 185.3,611.9 C189.52,610.95 193.78,609.65 198,608.7 C202.22,607.75 206.38,607.03 210.6,606.2 C214.82,605.37 219.07,604.33 223.3,603.7 C227.53,603.07 231.78,602.4 236,602.4 C240.22,602.4 244.38,602.53 248.6,603.7 C252.82,604.87 257.08,606.98 261.3,609.4 C265.52,611.82 269.68,615.03 273.9,618.2 C278.12,621.37 283.43,626.18 286.6,628.4 C289.77,630.62 290.8,631.08 292.9,631.5 C295,631.92 296.03,632.05 299.2,630.9 C302.37,629.75 308.43,626.5 311.9,624.6 C315.37,622.7 317.37,620.87 320,619.5 C322.63,618.13 324.32,618.08 327.7,616.4 C331.08,614.72 336.08,611.62 340.3,609.4 C344.52,607.18 348.78,605.1 353,603.1 C357.22,601.1 361.38,599.08 365.6,597.4 C369.82,595.72 374.07,594.27 378.3,593 C382.53,591.73 386.78,590.75 391,589.8 C395.22,588.85 399.38,588.03 403.6,587.3 C407.82,586.57 412.08,585.88 416.3,585.4 C420.52,584.92 424.68,584.57 428.9,584.4 C433.12,584.23 437.38,584.23 441.6,584.4 C445.82,584.57 448.63,584.92 454.2,585.4 C459.77,585.88 468.15,586.95 475,587.3 C481.85,587.65 487.7,587.47 495.3,587.5 C502.9,587.53 514.27,587.82 520.6,587.5 C526.93,587.18 529.07,586.35 533.3,585.6 C537.53,584.85 541.78,583.95 546,583 C550.22,582.05 554.38,581.37 558.6,579.9 C562.82,578.43 567.08,576.42 571.3,574.2 C575.52,571.98 580.73,568.5 583.9,566.6 C587.07,564.7 588.18,563.85 590.3,562.8 C592.42,561.75 593.87,561.03 596.6,560.3 C599.33,559.57 603.53,558.62 606.7,558.4 C609.87,558.18 612.55,558.68 615.6,559 C618.65,559.32 621.32,559.72 625,560.3 C628.68,560.88 633.48,561.67 637.7,562.5 C641.92,563.33 646.08,564.42 650.3,565.3 C654.52,566.18 658.78,567.07 663,567.8 C667.22,568.53 671.38,569.17 675.6,569.7 C679.82,570.23 684.08,570.47 688.3,571 C692.52,571.53 696.68,572.05 700.9,572.9 C705.12,573.75 709.37,575.05 713.6,576.1 C717.83,577.15 722.08,578.25 726.3,579.2 C730.52,580.15 734.68,581.05 738.9,581.8 C743.12,582.55 747.38,583.28 751.6,583.7 C755.82,584.12 760.3,584.37 764.2,584.3 C768.1,584.23 771.63,583.63 775,583.3 C778.37,582.97 781.28,582.62 784.4,582.3 C787.52,581.98 790.58,581.7 793.7,581.4 C796.82,581.1 799.97,580.7 803.1,580.5 C806.23,580.3 809.37,580.2 812.5,580.2 C815.63,580.2 818.78,580.22 821.9,580.5 C825.02,580.78 828.08,581.38 831.2,581.9 C834.32,582.42 836.35,583.2 840.6,583.6 C844.85,584 854.02,584.18 856.7,584.3" fill="none" stroke="#e26a1e" stroke-width="0.9"/>
<path d="M7,576.5 C9.79,576.67 19.92,576.92 23.75,577.5 C27.58,578.08 27.92,578.85 30,580 C32.08,581.15 34.17,583.05 36.25,584.4 C38.33,585.75 40.42,586.85 42.5,588.1 C44.58,589.35 47.08,590.75 48.75,591.9 C50.42,593.05 50.42,593.75 52.5,595 C54.58,596.25 58.33,598.32 61.25,599.4 C64.17,600.48 66.88,600.94 70,601.5 C73.12,602.06 76.67,602.17 80,602.75 C83.33,603.33 87.29,604.31 90,605 C92.71,605.69 94.17,605.65 96.25,606.9 C98.33,608.15 100.42,610.73 102.5,612.5 C104.58,614.27 106.25,616.77 108.75,617.5 C111.25,618.23 114.38,617.05 117.5,616.9 C120.62,616.75 124.38,616.5 127.5,616.6 C130.62,616.7 133.54,617.14 136.25,617.5 C138.96,617.86 140.21,618.5 143.75,618.75 C147.29,619 154.17,619.52 157.5,619 C160.83,618.48 161.67,616.89 163.75,615.6 C165.83,614.31 167.92,612.35 170,611.25 C172.08,610.15 173.12,609.88 176.25,609 C179.38,608.12 184.79,606.98 188.75,606 C192.71,605.02 196.36,603.8 200,603.1 C203.64,602.4 206.72,602.45 210.6,601.8 C214.48,601.15 220.33,599.77 223.3,599.2 C226.27,598.63 226.28,598.3 228.4,598.4 C230.52,598.5 233.98,599.33 236,599.8 C238.02,600.27 238.4,600.25 240.5,601.2 C242.6,602.15 246.2,603.78 248.6,605.5 C251,607.22 252.78,609.38 254.9,611.5 C257.02,613.62 259.18,615.6 261.3,618.2 C263.42,620.8 265.5,624.15 267.6,627.1 C269.7,630.05 271.78,633.27 273.9,635.9 C276.02,638.53 278.18,641.42 280.3,642.9 C282.42,644.38 284.5,645.53 286.6,644.8 C288.7,644.07 290.8,641.23 292.9,638.5 C295,635.77 297.08,631.57 299.2,628.4 C301.32,625.23 303.48,622.47 305.6,619.5 C307.72,616.53 309.58,612.82 311.9,610.6 C314.22,608.38 316.87,607.35 319.5,606.2 C322.13,605.05 324.23,604.85 327.7,603.7 C331.17,602.55 336.08,600.67 340.3,599.3 C344.52,597.93 348.78,597.08 353,595.5 C357.22,593.92 361.38,591.38 365.6,589.8 C369.82,588.22 375.13,586.85 378.3,586 C381.47,585.15 382.07,584.7 384.6,584.7 C387.13,584.7 390.33,586.32 393.5,586 C396.67,585.68 399.8,583.53 403.6,582.8 C407.4,582.07 412.08,581.63 416.3,581.6 C420.52,581.57 424.68,582.18 428.9,582.6 C433.12,583.02 438.22,583.53 441.6,584.1 C444.98,584.67 446.03,585.27 449.2,586 C452.37,586.73 457.13,588.05 460.6,588.5 C464.07,588.95 466.32,588.55 470,588.7 C473.68,588.85 478.48,589.6 482.7,589.4 C486.92,589.2 491.08,587.82 495.3,587.5 C499.52,587.18 503.78,587.62 508,587.5 C512.22,587.38 516.38,587.43 520.6,586.8 C524.82,586.17 529.07,584.78 533.3,583.7 C537.53,582.62 541.78,581.57 546,580.3 C550.22,579.03 554.38,578.82 558.6,576.1 C562.82,573.38 567.92,567.07 571.3,564 C574.68,560.93 576.8,559.9 578.9,557.7 C581,555.5 582,552.23 583.9,550.8 C585.8,549.37 588.18,549.22 590.3,549.1 C592.42,548.98 594.5,549.18 596.6,550.1 C598.7,551.02 600.8,553.22 602.9,554.6 C605,555.98 607.08,557.25 609.2,558.4 C611.32,559.55 612.97,560.57 615.6,561.5 C618.23,562.43 621.32,563.25 625,564 C628.68,564.75 633.48,565.25 637.7,566 C641.92,566.75 646.52,567.67 650.3,568.5 C654.08,569.33 656.18,570.48 660.4,571 C664.62,571.52 670.95,571.38 675.6,571.6 C680.25,571.82 684.92,571.87 688.3,572.3 C691.68,572.73 692.95,573.25 695.9,574.2 C698.85,575.15 702.2,576.63 706,578 C709.8,579.37 715.32,581.25 718.7,582.4 C722.08,583.55 722.93,584.27 726.3,584.9 C729.67,585.53 734.68,585.98 738.9,586.2 C743.12,586.42 747.38,586.52 751.6,586.2 C755.82,585.88 759.98,584.93 764.2,584.3 C768.42,583.67 773.53,583.03 776.9,582.4 C780.27,581.77 781.6,581.03 784.4,580.5 C787.2,579.97 790.58,579.45 793.7,579.2 C796.82,578.95 799.97,579 803.1,579 C806.23,579 809.37,578.95 812.5,579.2 C815.63,579.45 818.78,579.9 821.9,580.5 C825.02,581.1 828.4,581.87 831.2,582.8 C834,583.73 836.35,585.35 838.7,586.1 C841.05,586.85 842.3,587.2 845.3,587.3 C848.3,587.4 854.8,586.8 856.7,586.7" fill="none" stroke="#2d57d8" stroke-width="0.9"/>
</g>
<text x="11.7" y="549.9" font-size="8.2" textLength="22.4" lengthAdjust="spacingAndGlyphs" fill="#dcdcdc">MACD</text>
<line x1="1231" y1="17.5" x2="1231" y2="672.5" stroke="#444" stroke-width="2"/>
<line x1="7" y1="448.5" x2="1273" y2="448.5" stroke="#858585" stroke-width="1.2"/>
<line x1="7" y1="537" x2="1273" y2="537" stroke="#585858" stroke-width="2"/>
<line x1="7" y1="655.5" x2="1273" y2="655.5" stroke="#7a7a7a" stroke-width="1.1"/>
<text x="1236.8" y="35.6" font-size="8.2" fill="#c8c8c8">1.7500</text>
<text x="1236.8" y="60.6" font-size="8.2" fill="#c8c8c8">1.7000</text>
<text x="1236.8" y="86.3" font-size="8.2" fill="#c8c8c8">1.6500</text>
<text x="1236.8" y="113.1" font-size="8.2" fill="#c8c8c8">1.6000</text>
<text x="1236.8" y="141.2" font-size="8.2" fill="#c8c8c8">1.5500</text>
<text x="1236.8" y="170" font-size="8.2" fill="#c8c8c8">1.5000</text>
<text x="1236.8" y="193.2" font-size="8.2" fill="#c8c8c8">1.4600</text>
<text x="1236.8" y="217.9" font-size="8.2" fill="#c8c8c8">1.4200</text>
<text x="1236.8" y="267.9" font-size="8.2" fill="#c8c8c8">1.3400</text>
<text x="1236.8" y="314.8" font-size="8.2" fill="#c8c8c8">1.2700</text>
<text x="1236.8" y="336.2" font-size="8.2" fill="#c8c8c8">1.2400</text>
<text x="1236.8" y="357.8" font-size="8.2" fill="#c8c8c8">1.2100</text>
<text x="1236.8" y="379.5" font-size="8.2" fill="#c8c8c8">1.1800</text>
<text x="1236.8" y="401.7" font-size="8.2" fill="#c8c8c8">1.1500</text>
<text x="1236.8" y="420.7" font-size="8.2" fill="#c8c8c8">1.1250</text>
<text x="1236.8" y="441.8" font-size="8.2" fill="#c8c8c8">1.0990</text>
<rect x="1231.5" y="92.9" width="34.5" height="10.4" fill="#f23645"/>
<text x="1236.8" y="101.1" font-size="8.2" fill="#fff">1.6236</text>
<rect x="1231.5" y="289.3" width="34.5" height="10.4" fill="#f23645"/>
<text x="1236.8" y="297.4" font-size="8.2" fill="#fff">1.2966</text>
<rect x="1231.5" y="235.2" width="34.8" height="18.3" fill="#e8e8e8"/>
<text x="1236.8" y="242.5" font-size="8.2" fill="#131722">1.3805</text>
<text x="1236.8" y="252" font-size="8.2" fill="#131722">34:27</text>
<rect x="1211.3" y="420.3" width="54" height="9.4" fill="#25376f" fill-opacity="0.9"/>
<text x="1214" y="428.1" font-size="8.2" fill="#e6e9f5">Low</text>
<text x="1236.8" y="428.1" font-size="8.2" fill="#e6e9f5">1.1172</text>
<text x="1236.8" y="463.4" font-size="8.2" fill="#c8c8c8">80.00</text>
<text x="1236.8" y="483.9" font-size="8.2" fill="#c8c8c8">60.00</text>
<text x="1236.8" y="524.2" font-size="8.2" fill="#c8c8c8">20.00</text>
<rect x="1231.5" y="483" width="29" height="10" fill="#f5c542"/>
<text x="1236.8" y="491" font-size="8.2" fill="#131722">43.60</text>
<rect x="1231.5" y="494" width="29" height="10" fill="#7e57c2"/>
<text x="1236.8" y="502" font-size="8.2" fill="#fff">42.25</text>
<text x="1236.3" y="546.6" font-size="8.2" fill="#c8c8c8">0.0500</text>
<text x="1236.3" y="611.9" font-size="8.2" fill="#c8c8c8">−0.0500</text>
<text x="1236.3" y="643.9" font-size="8.2" fill="#c8c8c8">−0.1000</text>
<rect x="1231.5" y="574" width="38" height="10" fill="#ffcdd2"/>
<text x="1236.3" y="582" font-size="8.2" fill="#131722">−0.0035</text>
<rect x="1231.5" y="585" width="38" height="9.4" fill="#ff6d00"/>
<text x="1236.3" y="592.6" font-size="8.2" fill="#fff">−0.0127</text>
<rect x="1231.5" y="595.6" width="38" height="9.4" fill="#2962ff"/>
<text x="1236.3" y="603.3" font-size="8.2" fill="#fff">−0.0163</text>
<text x="20.7" y="667.9" font-size="8.7" text-anchor="middle" fill="#bdbdbd">29</text>
<text x="53.5" y="667.9" font-size="8.7" text-anchor="middle" fill="#bdbdbd">30</text>
<text x="86.3" y="667.9" font-size="8.7" text-anchor="middle" fill="#bdbdbd">31</text>
<text x="119.1" y="667.9" font-size="8.4" text-anchor="middle" fill="#e6e6e6" font-weight="bold" textLength="13.4" lengthAdjust="spacingAndGlyphs">Feb</text>
<text x="151.9" y="667.9" font-size="8.7" text-anchor="middle" fill="#bdbdbd">2</text>
<text x="184.7" y="667.9" font-size="8.7" text-anchor="middle" fill="#bdbdbd">3</text>
<text x="217.5" y="667.9" font-size="8.7" text-anchor="middle" fill="#bdbdbd">4</text>
<text x="250.3" y="667.9" font-size="8.7" text-anchor="middle" fill="#bdbdbd">5</text>
<text x="283.1" y="667.9" font-size="8.7" text-anchor="middle" fill="#bdbdbd">6</text>
<text x="315.9" y="667.9" font-size="8.7" text-anchor="middle" fill="#bdbdbd">7</text>
<text x="348.7" y="667.9" font-size="8.7" text-anchor="middle" fill="#bdbdbd">8</text>
<text x="381.5" y="667.9" font-size="8.7" text-anchor="middle" fill="#bdbdbd">9</text>
<text x="414.3" y="667.9" font-size="8.7" text-anchor="middle" fill="#bdbdbd">10</text>
<text x="447.1" y="667.9" font-size="8.7" text-anchor="middle" fill="#bdbdbd">11</text>
<text x="479.9" y="667.9" font-size="8.7" text-anchor="middle" fill="#bdbdbd">12</text>
<text x="512.7" y="667.9" font-size="8.7" text-anchor="middle" fill="#bdbdbd">13</text>
<text x="545.5" y="667.9" font-size="8.7" text-anchor="middle" fill="#bdbdbd">14</text>
<text x="578.3" y="667.9" font-size="8.7" text-anchor="middle" fill="#bdbdbd">15</text>
<text x="611.1" y="667.9" font-size="8.7" text-anchor="middle" fill="#bdbdbd">16</text>
<text x="643.9" y="667.9" font-size="8.7" text-anchor="middle" fill="#bdbdbd">17</text>
<text x="676.7" y="667.9" font-size="8.7" text-anchor="middle" fill="#bdbdbd">18</text>
<text x="709.5" y="667.9" font-size="8.7" text-anchor="middle" fill="#bdbdbd">19</text>
<text x="742.3" y="667.9" font-size="8.7" text-anchor="middle" fill="#bdbdbd">20</text>
<text x="775.1" y="667.9" font-size="8.7" text-anchor="middle" fill="#bdbdbd">21</text>
<text x="807.9" y="667.9" font-size="8.7" text-anchor="middle" fill="#bdbdbd">22</text>
<text x="840.7" y="667.9" font-size="8.7" text-anchor="middle" fill="#bdbdbd">23</text>
<text x="873.5" y="667.9" font-size="8.7" text-anchor="middle" fill="#bdbdbd">24</text>
<text x="906.3" y="667.9" font-size="8.7" text-anchor="middle" fill="#bdbdbd">25</text>
<text x="939.1" y="667.9" font-size="8.7" text-anchor="middle" fill="#bdbdbd">26</text>
<text x="971.9" y="667.9" font-size="8.7" text-anchor="middle" fill="#bdbdbd">27</text>
<text x="1004.7" y="667.9" font-size="8.7" text-anchor="middle" fill="#bdbdbd">28</text>
<text x="1037.5" y="667.9" font-size="8.4" text-anchor="middle" fill="#e6e6e6" font-weight="bold" textLength="15.4" lengthAdjust="spacingAndGlyphs">Mar</text>
<text x="1070.3" y="667.9" font-size="8.7" text-anchor="middle" fill="#bdbdbd">2</text>
<text x="1103.1" y="667.9" font-size="8.7" text-anchor="middle" fill="#bdbdbd">3</text>
<text x="1135.9" y="667.9" font-size="8.7" text-anchor="middle" fill="#bdbdbd">4</text>
<text x="1168.7" y="667.9" font-size="8.7" text-anchor="middle" fill="#bdbdbd">5</text>
<text x="1201.5" y="667.9" font-size="8.7" text-anchor="middle" fill="#bdbdbd">6</text>
<g transform="translate(8,684.7) scale(0.5)" fill="#e8e8e8"><path d="M14 22H7V11H0V4h14v18z"/><path d="M28 22h-8l7.5-18h8L28 22z"/><circle cx="20" cy="8" r="3"/></g>
<text x="30.5" y="696.2" font-size="13" font-weight="bold" fill="#e8e8e8">TradingView</text></svg></body></html>
